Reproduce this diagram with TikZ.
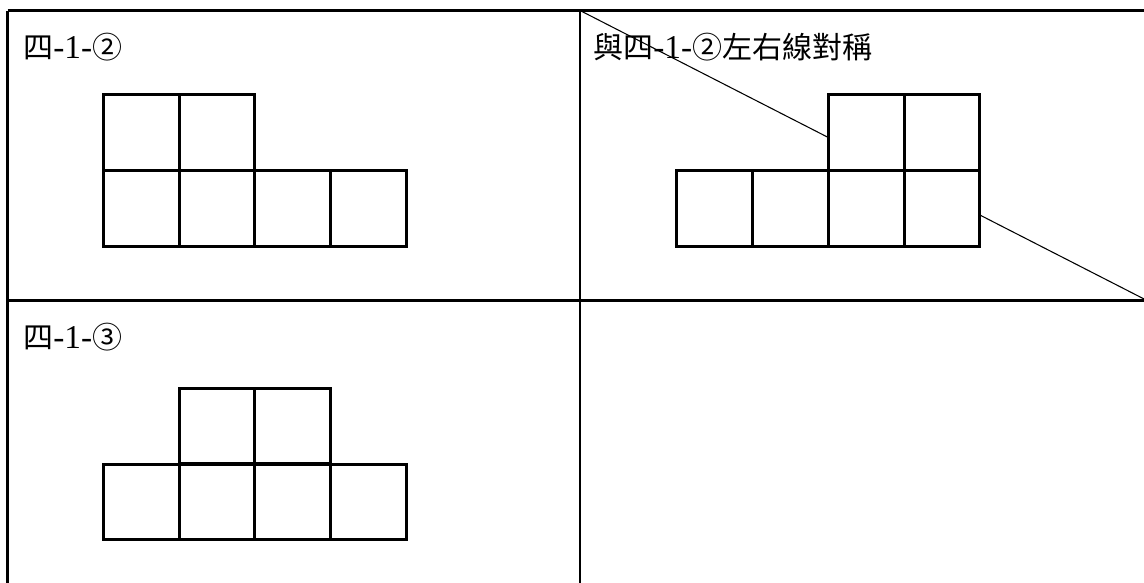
\documentclass[tikz,border=0pt]{standalone}
\usepackage{fontspec}
\setmainfont{Liberation Serif}
\newfontfamily\cjk{Noto Sans CJK TC}[Scale=1]
\newcommand{\lat}[1]{{\fontsize{25}{26}\selectfont #1}}
\begin{document}
\begin{tikzpicture}[x=0.75pt,y=-0.75pt,
  tbl/.style={line width=1.6pt,black},
  sq/.style={draw=black,fill=white,line width=2.2pt,minimum size=56.8pt,inner sep=0pt,outer sep=0pt},
  lbl/.style={anchor=base west,inner sep=0pt,font=\fontsize{22.5}{24}\selectfont}]
\useasboundingbox (0,0) rectangle (1144,582);
\clip (0,0) rectangle (1144,582);
% table
\coordinate (tl) at (7.5,10.5);
\coordinate (tm) at (580,10.5);
\coordinate (tr) at (1147,10.5);
\coordinate (ml) at (7.5,300.5);
\coordinate (mm) at (580,300.5);
\coordinate (mr) at (1147,300.5);
\coordinate (bl) at (7.5,586);
\coordinate (bm) at (580,586);
\draw[tbl] (tl) -- (tr);
\draw[tbl] (ml) -- (mr);
\draw[tbl] (tl) -- (bl);
\draw[tbl] (tm) -- (bm);
% diagonal
\draw[line width=0.8pt] (tm) -- (mr);
% labels
\node[lbl] (t1) at (23,58) {{\cjk 四}\lat{-1-}{\cjk ②}};
\node[lbl] (t2) at (593,58) {{\cjk 與四}\lat{-1-}{\cjk ②左右線對稱}};
\node[lbl] (t3) at (23,348) {{\cjk 四}\lat{-1-}{\cjk ③}};
% panel 1
\node[sq] (a1) at (141.3,132.8) {};
\node[sq] (a2) at (217,132.8) {};
\node[sq] (a3) at (141.3,208.7) {};
\node[sq] (a4) at (217,208.7) {};
\node[sq] (a5) at (292.7,208.7) {};
\node[sq] (a6) at (368.3,208.7) {};
% panel 2
\node[sq] (b1) at (866.2,132.8) {};
\node[sq] (b2) at (942,132.8) {};
\node[sq] (b3) at (714.8,208.7) {};
\node[sq] (b4) at (790.5,208.7) {};
\node[sq] (b5) at (866.2,208.7) {};
\node[sq] (b6) at (942,208.7) {};
% panel 3
\node[sq] (c1) at (217,426) {};
\node[sq] (c2) at (292.7,426) {};
\node[sq] (c3) at (141.3,502) {};
\node[sq] (c4) at (217,502) {};
\node[sq] (c5) at (292.7,502) {};
\node[sq] (c6) at (368.3,502) {};
\end{tikzpicture}
\end{document}
